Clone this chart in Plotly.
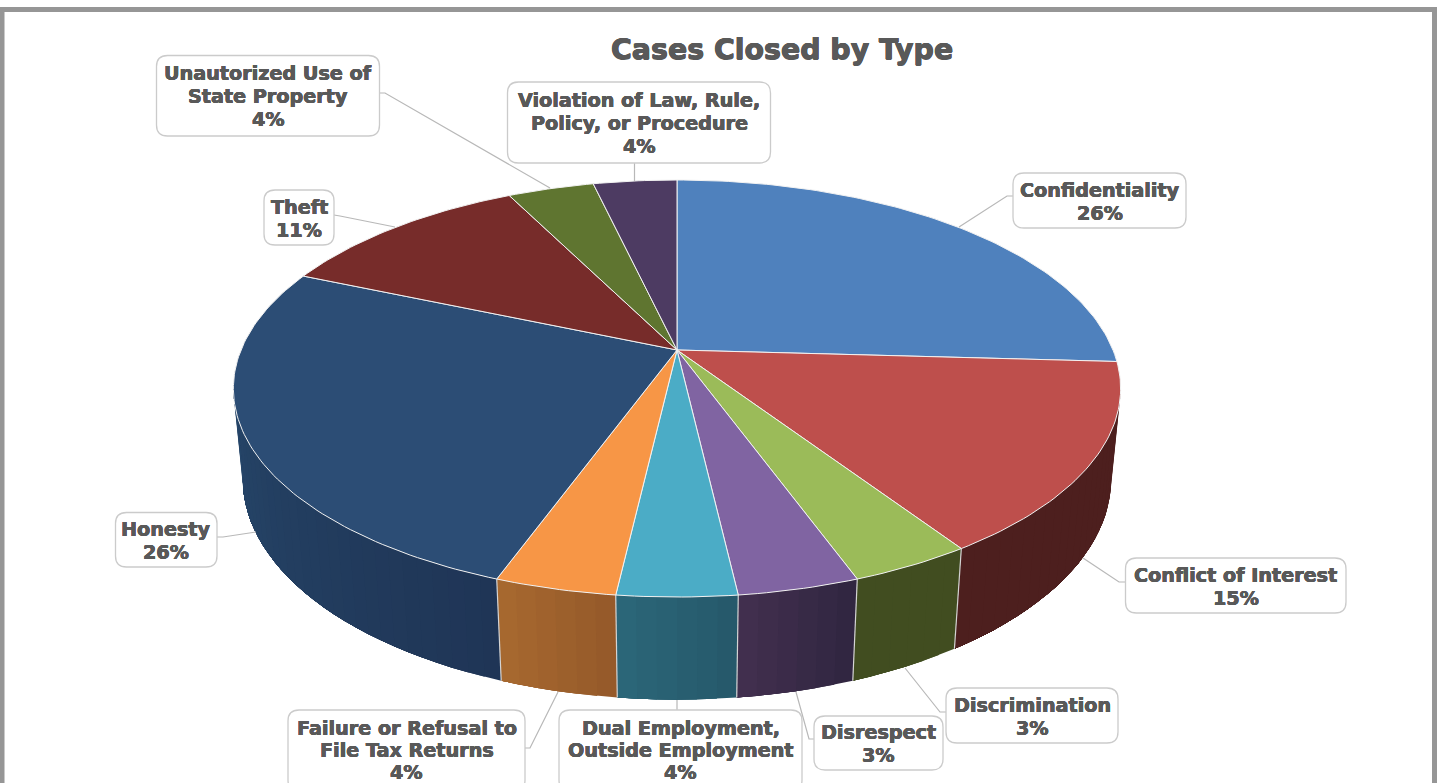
import math
import plotly.graph_objects as go

# ---- data ----
categories = ["Confidentiality", "Conflict of Interest", "Discrimination", "Disrespect",
              "Dual Employment,<br>Outside Employment", "Failure or Refusal to<br>File Tax Returns",
              "Honesty", "Theft", "Unautorized Use of<br>State Property",
              "Violation of Law, Rule,<br>Policy, or Procedure"]
values = [25.9, 14.8, 3.75, 3.72, 3.66, 3.72, 25.89, 11.16, 3.76, 3.64]
percent_labels = ["26%", "15%", "3%", "3%", "4%", "4%", "26%", "11%", "4%", "4%"]
title_text = "Cases Closed by Type"

# ---- styles ----
top_colors = ["#4F81BD", "#BE4F4C", "#9BBB59", "#8064A2", "#4BACC6",
              "#F79646", "#2C4D75", "#772C2A", "#5F7530", "#4D3B62"]
wall_colors = [("#4D1F1E", "#4D1F1E"), ("#4D1F1E", "#4D1F1E"), ("#414D20", "#414D20"),
               ("#2F2540", "#43304F"), ("#25586A", "#2C6779"), ("#94592A", "#A8692F"),
               ("#1F3556", "#264669"), ("#264669", "#264669"), ("#3B481E", "#3B481E"),
               ("#30253D", "#30253D")]
TEXT = "#595959"
FONT = "DejaVu Sans"
BORDER = "#CBCBCB"
LEADER = "#B8B8B8"
LINE_GAP = 23
BOTTOM_LINE_GAP = 22
BOTTOM_LAST_LINE = 772


def stroke(w):
    return ",".join(f"{dx}px {dy}px 0 {TEXT}" for dx, dy in
                    [(w, 0), (-w, 0), (0, w), (0, -w)])


# ---- layout of the drawing: projection of the pie and label boxes ----
CX, CY, A, B, K, C, H = 677, 350, 436, 201.4, 0.1847, 0.021, 91
WALL_FROM, WALL_TO = 99, 261
boxes = [  # x0, x1, y0, y1, leader points
    (1013, 1186, 173, 228, [(1013, 196), (1007, 196), (959, 227)]),
    (1125.5, 1346, 558, 613, [(1125, 582), (1119, 582), (1083, 558)]),
    (946, 1118, 688, 743, [(946, 712), (940, 712), (905, 668)]),
    (814, 943, 716, 770, [(814, 739), (809, 739), (796, 692)]),
    (559, 802, 710, 791, [(677, 710), (677, 700)]),
    (288, 525, 710, 791, [(525, 748), (530, 748), (558, 692)]),
    (115.5, 217, 512.5, 567, [(217, 537), (223, 537), (256, 532)]),
    (264, 334, 190, 245, [(334, 215), (340, 216), (395, 227)]),
    (156.5, 379.5, 55.5, 136, [(380, 93), (385, 93), (550, 188)]),
    (507.5, 770.5, 82, 163, [(634.5, 163), (634.5, 181)]),
]


def project(theta_deg, z=0.0):
    t = math.radians(theta_deg)
    u, v = math.sin(t), -math.cos(t)
    w = 1 - K * v + C * z
    return CX + A * u / w, CY + (B * v + H * z) / w


def mix(c1, c2, f):
    p = [int(c1[i:i + 2], 16) for i in (1, 3, 5)]
    q = [int(c2[i:i + 2], 16) for i in (1, 3, 5)]
    return "#%02x%02x%02x" % tuple(round(a + (b - a) * f) for a, b in zip(p, q))


total = sum(values)
edges = [0.0]
for val in values:
    edges.append(edges[-1] + val / total * 360)

fig = go.Figure()


def poly(xs, ys, fill, line_color, width):
    fig.add_trace(go.Scatter(x=xs, y=ys, mode="lines", fill="toself", fillcolor=fill,
                             line=dict(color=line_color, width=width),
                             hoverinfo="skip", showlegend=False))


# walls: every strip runs on to the end of its slice, the next one paints over it,
# so no seams show between strips
for i, (t0, t1) in enumerate(zip(edges[:-1], edges[1:])):
    lo, hi = max(t0, WALL_FROM), min(t1, WALL_TO)
    if hi <= lo:
        continue
    n = max(1, int((hi - lo) / 2))
    for j in range(n):
        a0 = lo + (hi - lo) * j / n
        col = mix(wall_colors[i][0], wall_colors[i][1], (j + 0.5) / n)
        m = max(2, int((hi - a0) / 2))
        angles = [a0 + (hi - a0) * q / m for q in range(m + 1)]
        p = [project(a) for a in angles] + [project(a, 1) for a in reversed(angles)]
        poly([q[0] for q in p] + [p[0][0]], [q[1] for q in p] + [p[0][1]], col, col, 0)

# separators on the walls
for e in edges[1:]:
    if 120 < e < 250:
        p0, p1 = project(e), project(e, 1)
        fig.add_trace(go.Scatter(x=[p0[0], p1[0]], y=[p0[1], p1[1]], mode="lines",
                                 line=dict(color="#D4D4D4", width=1.2),
                                 hoverinfo="skip", showlegend=False))

# top faces
for i, (t0, t1) in enumerate(zip(edges[:-1], edges[1:])):
    n = max(4, int((t1 - t0) / 1.0))
    arc = [project(t0 + (t1 - t0) * j / n) for j in range(n + 1)]
    xs = [CX] + [q[0] for q in arc] + [CX]
    ys = [CY] + [q[1] for q in arc] + [CY]
    poly(xs, ys, top_colors[i], "#F2F2F2", 1)

# leader lines
for b in boxes:
    pts = b[4]
    fig.add_trace(go.Scatter(x=[q[0] for q in pts], y=[q[1] for q in pts], mode="lines",
                             line=dict(color=LEADER, width=1.2),
                             hoverinfo="skip", showlegend=False))


def round_box(x0, x1, y0, y1, r=11):
    return (f"M {x0 + r} {y0} L {x1 - r} {y0} Q {x1} {y0} {x1} {y0 + r} "
            f"L {x1} {y1 - r} Q {x1} {y1} {x1 - r} {y1} L {x0 + r} {y1} "
            f"Q {x0} {y1} {x0} {y1 - r} L {x0} {y0 + r} Q {x0} {y0} {x0 + r} {y0} Z")


shapes = [dict(type="rect", xref="x", yref="y", x0=2, x1=1434.5, y0=9.5, y1=810,
               line=dict(color="#969696", width=5), layer="below")]
annotations = [dict(text=title_text, x=782, y=49, xref="x", yref="y", showarrow=False,
                    font=dict(family=FONT, size=28.4, color=TEXT, weight="bold", shadow=stroke(0.5)),
                    xanchor="center", yanchor="middle")]
for i, b in enumerate(boxes):
    x0, x1, y0, y1 = b[:4]
    shapes.append(dict(type="path", xref="x", yref="y", path=round_box(x0, x1, y0, y1),
                       fillcolor="white", line=dict(color=BORDER, width=1.3), layer="above"))
    lines = categories[i].split("<br>") + [percent_labels[i]]
    mid = (y0 + y1) / 2 + 1
    for k, text in enumerate(lines):
        if y1 > 783:  # box runs off the bottom of the picture: keep its text inside
            y = BOTTOM_LAST_LINE - (len(lines) - 1 - k) * BOTTOM_LINE_GAP
        else:
            y = mid + (k - (len(lines) - 1) / 2) * LINE_GAP
        annotations.append(dict(text=text, x=(x0 + x1) / 2, y=y,
                                xref="x", yref="y", showarrow=False,
                                xanchor="center", yanchor="middle",
                                font=dict(family=FONT, size=19.2, color=TEXT, weight="bold",
                                          shadow=stroke(0.35))))

fig.update_layout(
    width=1437, height=783, margin=dict(l=0, r=0, t=0, b=0),
    paper_bgcolor="white", plot_bgcolor="white", showlegend=False,
    xaxis=dict(range=[0, 1437], visible=False, fixedrange=True),
    yaxis=dict(range=[783, 0], visible=False, fixedrange=True),
    shapes=shapes, annotations=annotations,
)
fig.write_html("out.html", config={"displayModeBar": False},
               post_script="document.body.style.margin='0';document.body.style.overflow='hidden';")
